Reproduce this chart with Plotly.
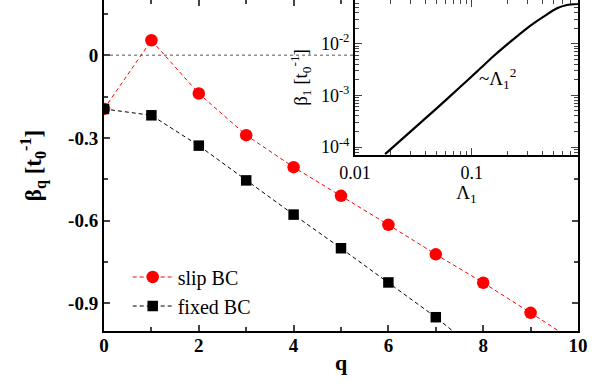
import math
import plotly.graph_objects as go

# ---------------- data ----------------
q_slip = [0, 1, 2, 3, 4, 5, 6, 7, 8, 9, 10]
beta_slip = [-0.195, 0.054, -0.139, -0.290, -0.406, -0.510, -0.615, -0.722, -0.825, -0.934, -1.045]
q_fixed = [0, 1, 2, 3, 4, 5, 6, 7, 8]
beta_fixed = [-0.195, -0.218, -0.328, -0.454, -0.578, -0.700, -0.824, -0.950, -1.090]

lam1 = [0.0181, 0.03, 0.05, 0.0794, 0.1104, 0.153, 0.213, 0.296, 0.411, 0.535, 0.652, 0.794, 0.83]
beta1 = [7.3e-5, 2.0e-4, 5.6e-4, 1.45e-3, 2.87e-3, 5.7e-3, 1.08e-2, 1.98e-2, 3.33e-2, 4.84e-2, 5.61e-2, 5.86e-2, 5.88e-2]

main_xticks = [0, 2, 4, 6, 8, 10]
main_xticktext = ["<b>0</b>", "<b>2</b>", "<b>4</b>", "<b>6</b>", "<b>8</b>", "<b>10</b>"]
main_yticks = [0, -0.3, -0.6, -0.9]
main_yticktext = ["<b>0</b>", "<b>-0.3</b>", "<b>-0.6</b>", "<b>-0.9</b>"]
inset_xticks = [0.01, 0.1]
inset_xticktext = ["0.01", "0.1"]
inset_yticks = [1e-4, 1e-3, 1e-2]
inset_yticktext = ["10<sup>-4</sup>", "10<sup>-3</sup>", "10<sup>-2</sup>"]

# ---------------- style ----------------
SERIF = "Liberation Serif, Times New Roman, serif"
x_range = [0, 10]
y_range = [-1.0, 0.2]
inset_dom_x = [0.5295, 1.0]
inset_dom_y = [0.532, 1.0]

fig = go.Figure()

fig.add_trace(go.Scatter(
    x=q_slip, y=beta_slip, mode="lines+markers", name="slip BC",
    line=dict(color="#ff0000", width=1, dash="4px,3px"),
    marker=dict(symbol="circle", size=12.5, color="#ff0000"),
    xaxis="x", yaxis="y"))
fig.add_trace(go.Scatter(
    x=q_fixed, y=beta_fixed, mode="lines+markers", name="fixed BC",
    line=dict(color="#000000", width=1, dash="4px,3px"),
    marker=dict(symbol="square", size=10.5, color="#000000"),
    xaxis="x", yaxis="y"))

fig.add_trace(go.Scatter(
    x=lam1, y=beta1, mode="lines", showlegend=False,
    line=dict(color="#000000", width=2.2, shape="spline", smoothing=0.6),
    xaxis="x2", yaxis="y2"))

# zero reference line, ending where the inset begins
x_end = x_range[0] + inset_dom_x[0] * (x_range[1] - x_range[0])
fig.add_shape(type="line", xref="x", yref="y", x0=x_range[0], x1=x_end, y0=0, y1=0,
              line=dict(color="#555555", width=1, dash="dot"), layer="below")

minor_inset_x = [m * 10 ** e for e in (-2, -1) for m in range(2, 10)]
minor_inset_y = [m * 10 ** e for e in (-5, -4, -3, -2) for m in range(2, 10)]

axis_common = dict(showline=True, linecolor="black", mirror="allticks", ticks="inside",
                   showgrid=False, zeroline=False, automargin=False)

fig.update_layout(
    width=607, height=383,
    margin=dict(l=104, r=29, t=0, b=52, autoexpand=False),
    paper_bgcolor="white", plot_bgcolor="white",
    showlegend=True,
    legend=dict(x=0.05, y=0.222, xanchor="left", yanchor="top",
                bgcolor="rgba(0,0,0,0)", font=dict(family=SERIF, size=20, color="black"),
                tracegroupgap=0, itemwidth=40),
    xaxis=dict(**axis_common, domain=[0, 1], range=x_range, linewidth=2,
               tickvals=main_xticks, ticktext=main_xticktext, ticklen=6, tickwidth=1.5,
               ticklabelstandoff=-4,
               minor=dict(ticks="inside", dtick=1, ticklen=4, tickwidth=1.5),
               tickfont=dict(family=SERIF, size=19, color="black"),
               title=dict(text="<b>q</b>", font=dict(family=SERIF, size=22, color="black"),
                          standoff=0),
               anchor="y"),
    yaxis=dict(**axis_common, domain=[0, 1], range=y_range, linewidth=2,
               tickvals=main_yticks, ticktext=main_yticktext, ticklen=6, tickwidth=1.5,
               minor=dict(ticks="inside", tickvals=[0.15, -0.15, -0.45, -0.75], ticklen=4, tickwidth=1.5),
               tickfont=dict(family=SERIF, size=19, color="black"),
               title=dict(text="<b>β<sub>q</sub> [t<sub>0</sub><sup>-1</sup>]</b>",
                          font=dict(family=SERIF, size=23, color="black"),
                          standoff=20),
               anchor="x"),
    xaxis2=dict(**axis_common, type="log", domain=inset_dom_x,
                range=[math.log10(0.01), math.log10(0.81)], linewidth=2,
                tickvals=inset_xticks, ticktext=inset_xticktext, ticklen=7, tickwidth=1,
                minor=dict(ticks="inside", tickvals=minor_inset_x, ticklen=4, tickwidth=1),
                tickfont=dict(family=SERIF, size=18, color="black"),
                title=dict(text="Λ<sub>1</sub>", font=dict(family=SERIF, size=19, color="black"),
                           standoff=0),
                anchor="y2"),
    yaxis2=dict(**axis_common, type="log", domain=inset_dom_y,
                range=[-4.153, -1.155], linewidth=2,
                tickvals=inset_yticks, ticktext=inset_yticktext, ticklen=7, tickwidth=1,
                minor=dict(ticks="inside", tickvals=minor_inset_y, ticklen=4, tickwidth=1),
                tickfont=dict(family=SERIF, size=18, color="black"),
                title=dict(text="β<sub>1</sub> [t<sub>0</sub><sup>-1</sup>]",
                           font=dict(family=SERIF, size=19, color="black"), standoff=8),
                anchor="x2"),
    annotations=[dict(x=math.log10(0.165), y=math.log10(0.0021), xref="x2", yref="y2",
                      text="~Λ<sub>1</sub><sup>2</sup>", showarrow=False,
                      font=dict(family=SERIF, size=19, color="black"))],
)

fig.write_html("out.html", config={"displayModeBar": False},
               post_script="document.body.style.margin='0';document.body.style.overflow='hidden';")
